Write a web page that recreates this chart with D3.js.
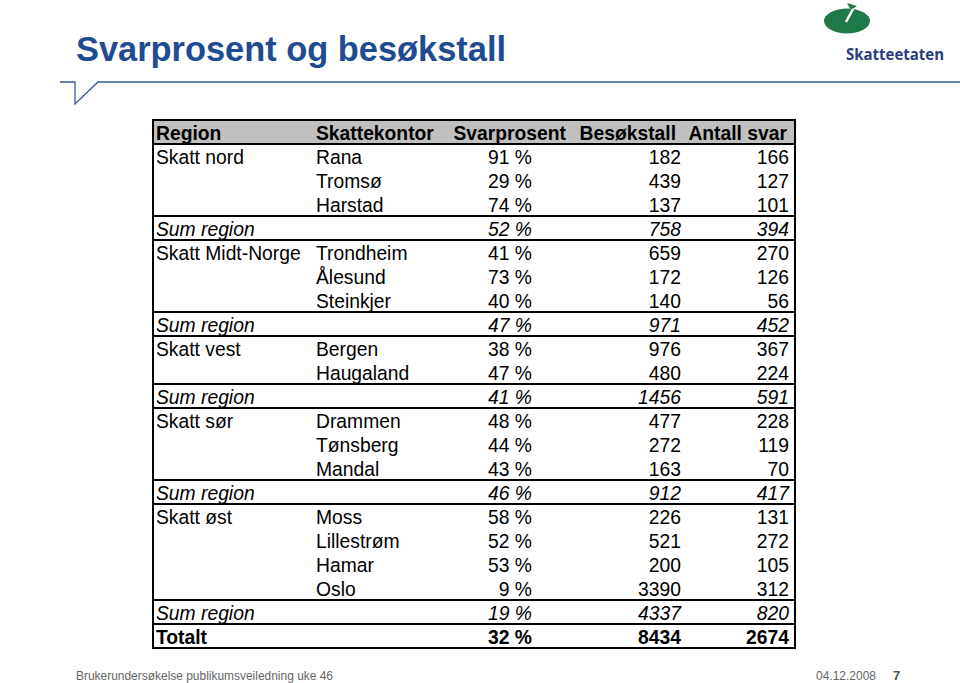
<!DOCTYPE html>
<html><head><meta charset="utf-8">
<script src="https://cdn.jsdelivr.net/npm/d3@7"></script>
<style>body{margin:0;background:#fff}svg{display:block}</style>
</head><body>
<svg id="c" width="960" height="683"></svg>
<script>
const columns = ["Region","Skattekontor","Svarprosent","Besøkstall","Antall svar"];
const regions = ["Skatt nord","","","Sum region","Skatt Midt-Norge","","","Sum region","Skatt vest","","Sum region","Skatt sør","","","Sum region","Skatt øst","","","","Sum region","Totalt"];
const offices = ["Rana","Tromsø","Harstad","","Trondheim","Ålesund","Steinkjer","","Bergen","Haugaland","","Drammen","Tønsberg","Mandal","","Moss","Lillestrøm","Hamar","Oslo","",""];
const svarprosent = [91,29,74,52,41,73,40,47,38,47,41,48,44,43,46,58,52,53,9,19,32];
const besokstall = [182,439,137,758,659,172,140,971,976,480,1456,477,272,163,912,226,521,200,3390,4337,8434];
const antallSvar = [166,127,101,394,270,126,56,452,367,224,591,228,119,70,417,131,272,105,312,820,2674];

(function(){
const svg = d3.select("#c");
const font = "Liberation Sans, Arial, sans-serif";
const fs = 19.3;

// Title
svg.append("text").attr("x",76).attr("y",61).attr("font-family",font).attr("font-weight","bold")
  .attr("font-size",34.4).attr("fill","#1f4b93").text("Svarprosent og besøkstall");
svg.append("path").attr("d","M60,82 H75 V104 L98,82 H960").attr("fill","none").attr("stroke","#3a5a96").attr("stroke-width",1.3);

// Logo
const lg = svg.append("g");
lg.append("ellipse").attr("cx",847).attr("cy",21).attr("rx",23).attr("ry",12.5).attr("fill","#1f7a4a");
lg.append("path").attr("d","M847,3 L857,6 L851,10 Z").attr("fill","#1f7a4a");
lg.append("path").attr("d","M853,9 L846,22").attr("stroke","#fff").attr("stroke-width",2.5);
lg.append("text").attr("x",846).attr("y",60).attr("font-family","Open Sans, sans-serif").attr("font-weight","bold")
  .attr("font-size",15.5).attr("textLength",98).attr("lengthAdjust","spacingAndGlyphs")
  .attr("fill","#2b3b7c").text("Skatteetaten");

// Table
const tLeft = 153, tRight = 795, tTop = 120, tBottom = 648;
const x = d3.scaleOrdinal().domain(columns).range([156,316,566,676,787]);
const y = d3.scaleBand().domain(d3.range(-1, regions.length)).range([tTop, tBottom]);

svg.append("rect").attr("x",tLeft).attr("y",tTop).attr("width",tRight-tLeft).attr("height",y.bandwidth())
  .attr("fill","#c0c0c0");

const hdr = svg.append("g");
columns.forEach((c,i)=>{
  hdr.append("text").attr("x",x(c)).attr("y",y(-1)+y.bandwidth()/2+7.5)
    .attr("text-anchor", i<2 ? "start":"end")
    .attr("font-family",font).attr("font-weight","bold").attr("font-size",fs).attr("fill","#000").text(c);
});

const rows = svg.append("g").attr("font-family",font).attr("font-size",fs).attr("fill","#000");
const valX = {Svarprosent:532, Besøkstall:681, "Antall svar":789};
regions.forEach((r,i)=>{
  const isSum = r==="Sum region", isTot = r==="Totalt";
  const yy = y(i)+y.bandwidth()/2+8;
  const style = sel => { if(isSum) sel.attr("font-style","italic"); if(isTot) sel.attr("font-weight","bold"); return sel; };
  style(rows.append("text").attr("x",156).attr("y",yy).text(r));
  style(rows.append("text").attr("x",316).attr("y",yy).text(offices[i]));
  style(rows.append("text").attr("x",valX.Svarprosent).attr("y",yy).attr("text-anchor","end").text(svarprosent[i]+" %"));
  style(rows.append("text").attr("x",valX["Besøkstall"]).attr("y",yy).attr("text-anchor","end").text(besokstall[i]));
  style(rows.append("text").attr("x",valX["Antall svar"]).attr("y",yy).attr("text-anchor","end").text(antallSvar[i]));
});

// Lines
const lines = svg.append("g").attr("stroke","#000").attr("stroke-width",2);
lines.append("line").attr("x1",tLeft).attr("x2",tRight).attr("y1",y(0)).attr("y2",y(0));
regions.forEach((r,i)=>{
  if(r==="Sum region"||r==="Totalt"){
    lines.append("line").attr("x1",tLeft).attr("x2",tRight).attr("y1",y(i)).attr("y2",y(i));
    lines.append("line").attr("x1",tLeft).attr("x2",tRight).attr("y1",y(i)+y.bandwidth()).attr("y2",y(i)+y.bandwidth());
  }
});
svg.append("rect").attr("x",tLeft).attr("y",tTop).attr("width",tRight-tLeft).attr("height",tBottom-tTop)
  .attr("fill","none").attr("stroke","#000").attr("stroke-width",2);

// Footer
const ff = "Liberation Sans, Arial, sans-serif";
svg.append("text").attr("x",76).attr("y",680).attr("font-family",ff)
  .attr("font-size",13).attr("textLength",257).attr("lengthAdjust","spacingAndGlyphs")
  .attr("fill","#666").text("Brukerundersøkelse publikumsveiledning uke 46");
svg.append("text").attr("x",816).attr("y",680).attr("font-family",ff)
  .attr("font-size",13).attr("textLength",60).attr("lengthAdjust","spacingAndGlyphs")
  .attr("fill","#666").text("04.12.2008");
svg.append("text").attr("x",893).attr("y",680).attr("font-family",ff).attr("font-weight","bold")
  .attr("font-size",13).attr("fill","#555").text("7");
})();
</script>
</body></html>
